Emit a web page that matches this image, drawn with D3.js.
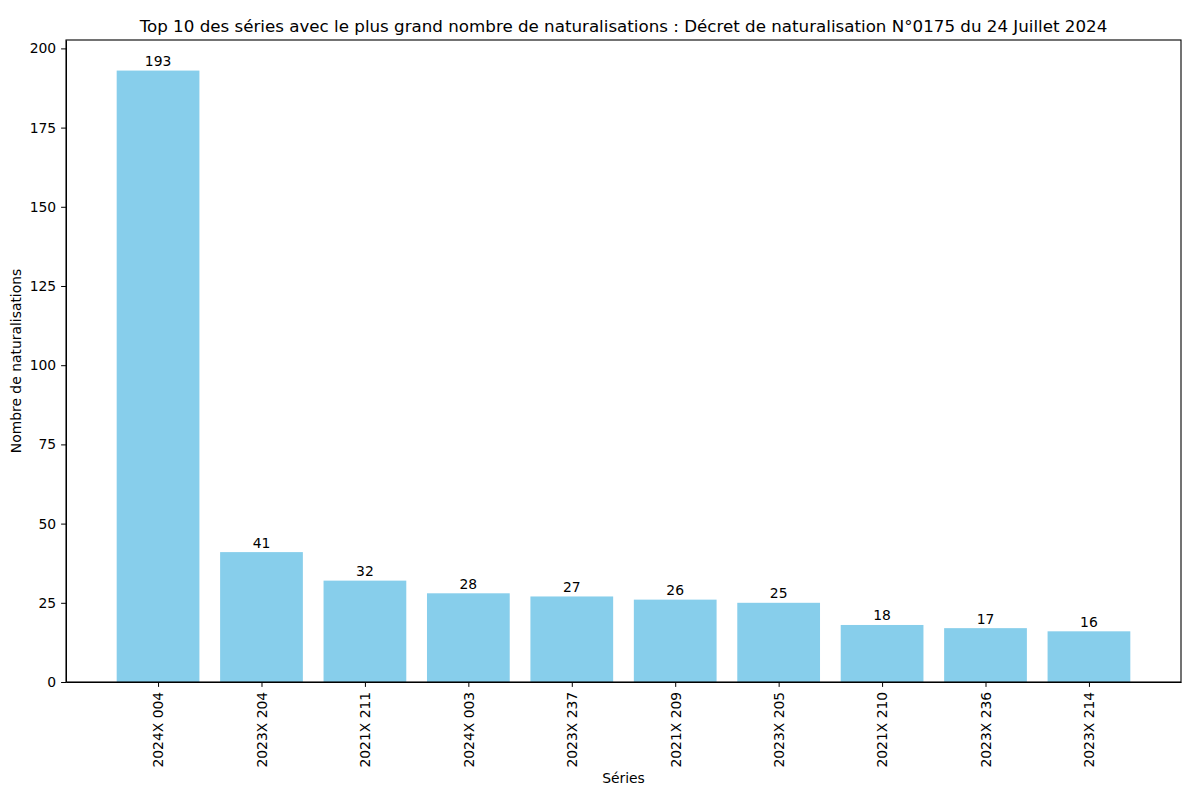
<!DOCTYPE html>
<html>
<head>
<meta charset="utf-8">
<script src="https://cdn.jsdelivr.net/npm/d3@7"></script>
<style>
  body { margin: 0; background: #fff; }
  text { font-family: "DejaVu Sans", sans-serif; }
</style>
</head>
<body>
<div id="graph"></div>
<script>
//Data
const series = ["2024X 004", "2023X 204", "2021X 211", "2024X 003", "2023X 237",
                "2021X 209", "2023X 205", "2021X 210", "2023X 236", "2023X 214"];
const counts = [193, 41, 32, 28, 27, 26, 25, 18, 17, 16];
const yTicks = [0, 25, 50, 75, 100, 125, 150, 175, 200];

//Display specifications
const W = 1187, H = 787;
const margin = {top: 40, right: 6, bottom: 105, left: 66};
const width = W - margin.left - margin.right;
const height = H - margin.top - margin.bottom;

const svg = d3.select("#graph")
    .append("svg")
    .attr("width", W)
    .attr("height", H);

const container = svg.append("g")
    .attr("transform", "translate(" + margin.left + "," + margin.top + ")");

//Scales (matplotlib-like margins)
const n = series.length;
const pad = 0.05 * (n - 1 + 0.8);
const x = d3.scaleLinear()
    .domain([-0.4 - pad, n - 1 + 0.4 + pad])
    .range([0, width]);

const ymax = d3.max(counts) * 1.05;
const y = d3.scaleLinear()
    .domain([0, ymax])
    .range([height, 0]);

//Bars
container.append("g")
    .selectAll("rect")
    .data(counts)
    .enter()
    .append("rect")
    .attr("x", (d, i) => x(i - 0.4))
    .attr("width", (d, i) => x(i + 0.4) - x(i - 0.4))
    .attr("y", d => y(d))
    .attr("height", d => y(0) - y(d))
    .attr("fill", "#87ceeb");

//Bar labels
container.append("g")
    .selectAll("text")
    .data(counts)
    .enter()
    .append("text")
    .attr("x", (d, i) => x(i))
    .attr("y", d => y(d) - 4.5)
    .attr("text-anchor", "middle")
    .attr("font-size", "13.9px")
    .text(d => d);

//X axis
const xAxis = container.append("g")
    .attr("transform", "translate(0," + height + ")")
    .call(d3.axisBottom(x)
        .tickValues(d3.range(n))
        .tickFormat(i => series[i])
        .tickSize(4.9)
        .tickPadding(4.9)
        .tickSizeOuter(0));
xAxis.selectAll("text")
    .attr("transform", "rotate(-90)")
    .attr("text-anchor", "end")
    .attr("x", -9.8)
    .attr("y", 0)
    .attr("dy", "0.35em")
    .attr("font-size", "13.9px")
    .attr("font-family", "DejaVu Sans")
    .attr("fill", "#000");

//Y axis
const yAxis = container.append("g")
    .call(d3.axisLeft(y)
        .tickValues(yTicks)
        .tickSize(4.9)
        .tickPadding(4.9)
        .tickSizeOuter(0));
yAxis.selectAll("text")
    .attr("font-size", "13.9px")
    .attr("font-family", "DejaVu Sans")
    .attr("fill", "#000");

//Frame
container.append("rect")
    .attr("width", width)
    .attr("height", height)
    .attr("fill", "none")
    .attr("stroke", "#000")
    .attr("stroke-width", 1.1);

//Title
svg.append("text")
    .attr("x", margin.left + width / 2)
    .attr("y", margin.top - 8)
    .attr("text-anchor", "middle")
    .attr("font-size", "16.7px")
    .text("Top 10 des séries avec le plus grand nombre de naturalisations : Décret de naturalisation N°0175 du 24 Juillet 2024");

//X label
svg.append("text")
    .attr("x", margin.left + width / 2)
    .attr("y", 783)
    .attr("text-anchor", "middle")
    .attr("font-size", "13.9px")
    .text("Séries");

//Y label
svg.append("text")
    .attr("transform", "rotate(-90)")
    .attr("x", -(margin.top + height / 2))
    .attr("y", 21)
    .attr("text-anchor", "middle")
    .attr("font-size", "13.9px")
    .text("Nombre de naturalisations");
</script>
</body>
</html>
